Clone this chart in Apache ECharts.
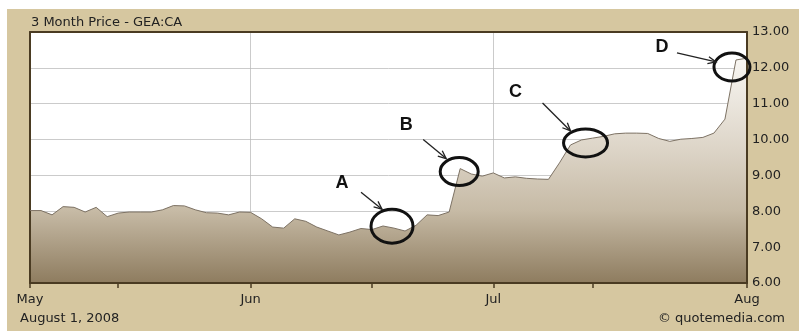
<!DOCTYPE html>
<html>
<head>
<meta charset="utf-8">
<script src="https://cdn.jsdelivr.net/npm/echarts@6/dist/echarts.min.js"></script>
<style>
  html, body { margin: 0; padding: 0; background: #fff; }
  #frame { position: absolute; left: 7px; top: 9px; width: 792px; height: 322px; background: #d6c7a0; }
  #chart { position: absolute; left: 0; top: 0; width: 799px; height: 331px; }
</style>
</head>
<body>
<div id="frame"></div>
<div id="chart"></div>
<script>
// daily closes, GEA:CA, May 1 - Aug 1 2008
const prices = [
    8.02, 8.02, 7.90, 8.13, 8.11, 7.98, 8.11, 7.85, 7.95, 7.98,
    7.98, 7.98, 8.04, 8.16, 8.15, 8.04, 7.96, 7.95, 7.90, 7.98,
    7.97, 7.79, 7.56, 7.53, 7.79, 7.72, 7.56, 7.45, 7.34, 7.42,
    7.52, 7.49, 7.59, 7.53, 7.45, 7.61, 7.90, 7.88, 7.98, 9.19,
    9.04, 8.98, 9.07, 8.93, 8.96, 8.92, 8.90, 8.89, 9.35, 9.85,
    9.99, 10.04, 10.09, 10.16, 10.18, 10.18, 10.17, 10.03, 9.95, 10.01,
    10.03, 10.06, 10.18, 10.57, 12.22, 12.27
];
const days = prices.map((p, i) => String(i));

// month labels and where they sit on the day axis
const monthIdx = [0, 20, 42, 65];
const monthNames = ['May', 'Jun', 'Jul', 'Aug'];
const midIdx = [8, 31, 51];

// hand drawn notes
const noteLetters = ['A', 'B', 'C', 'D'];
const noteIndex = [33, 39, 50, 64];

// note layout, pixel offsets from the data point
const noteLayout = [
    { ring: [-2, -2, 21, 17], letter: [-52, -45], arrow: [-33, -36, -12, -19] },
    { ring: [-1, 3, 19, 14], letter: [-54, -44], arrow: [-37, -29, -14, -10] },
    { ring: [4, 3, 22, 14], letter: [-66, -48], arrow: [-39, -37, -11, -9] },
    { ring: [-4, 7, 18, 14], letter: [-74, -13], arrow: [-59, -7, -20, 2] }
];

const font = 'DejaVu Sans';
const dark = '#4a3b22';

var chart = echarts.init(document.getElementById('chart'));

var option = {
    backgroundColor: 'transparent',
    animation: false,
    grid: { left: 30, top: 32, right: 52, bottom: 48, show: true, backgroundColor: '#ffffff', borderWidth: 0 },
    xAxis: [
        {
            type: 'category',
            data: days,
            boundaryGap: false,
            z: 3,
            axisLine: { lineStyle: { color: dark, width: 2 } },
            axisTick: {
                show: true,
                length: 5,
                lineStyle: { color: dark, width: 1.5 },
                interval: (i) => monthIdx.includes(i) || midIdx.includes(i)
            },
            axisLabel: {
                interval: (i) => monthIdx.includes(i),
                formatter: (v) => monthNames[monthIdx.indexOf(+v)] || '',
                color: '#222',
                fontFamily: font,
                fontSize: 13,
                margin: 10
            },
            splitLine: {
                show: true,
                interval: (i) => i === monthIdx[1] || i === monthIdx[2],
                lineStyle: { color: 'rgba(185,185,185,0.75)', width: 1 }
            }
        },
        {
            type: 'category',
            data: days,
            boundaryGap: false,
            position: 'top',
            z: 3,
            axisLine: { lineStyle: { color: dark, width: 2 } },
            axisTick: { show: false },
            axisLabel: { show: false },
            splitLine: { show: false }
        }
    ],
    yAxis: [
        {
            type: 'value',
            position: 'right',
            min: 6,
            max: 13,
            interval: 1,
            z: 3,
            axisLine: { show: true, lineStyle: { color: dark, width: 2 } },
            axisTick: { show: false },
            axisLabel: {
                formatter: (v) => v.toFixed(2),
                color: '#222',
                fontFamily: font,
                fontSize: 13,
                margin: 5
            },
            splitLine: { show: true, lineStyle: { color: 'rgba(185,185,185,0.75)', width: 1 } }
        },
        {
            type: 'value',
            position: 'left',
            min: 6,
            max: 13,
            z: 3,
            axisLine: { show: true, lineStyle: { color: dark, width: 2 } },
            axisTick: { show: false },
            axisLabel: { show: false },
            splitLine: { show: false }
        }
    ],
    series: [
        {
            type: 'line',
            data: prices,
            symbol: 'none',
            lineStyle: { color: '#7d7264', width: 1 },
            areaStyle: {
                opacity: 1,
                color: new echarts.graphic.LinearGradient(0, 0, 0, 1, [
                    { offset: 0, color: '#f8f6f2' },
                    { offset: 0.4, color: '#ddd5c8' },
                    { offset: 0.68, color: '#c6baa5' },
                    { offset: 1, color: '#8e7c5f' }
                ])
            }
        }
    ],
    graphic: [
        { type: 'text', left: 31, top: 16, style: { text: '3 Month Price - GEA:CA', font: '13px "DejaVu Sans"', fill: '#222' } },
        { type: 'text', left: 20, top: 312, style: { text: 'August 1, 2008', font: '13px "DejaVu Sans"', fill: '#222' } },
        { type: 'text', right: 14, top: 312, style: { text: '\u00a9 quotemedia.com', font: '13px "DejaVu Sans"', fill: '#222' } }
    ]
};

chart.setOption(option);

function arrowEls(x1, y1, x2, y2) {
    var a = Math.atan2(y2 - y1, x2 - x1), h = 8, w = 3.5;
    var c = Math.cos(a), s = Math.sin(a);
    return [
        { type: 'line', z: 50, shape: { x1: x1, y1: y1, x2: x2, y2: y2 }, style: { stroke: '#222', lineWidth: 1.3 } },
        { type: 'polyline', z: 50, shape: { points: [
            [x2 - h * c + w * s, y2 - h * s - w * c], [x2, y2], [x2 - h * c - w * s, y2 - h * s + w * c]
        ] }, style: { stroke: '#222', lineWidth: 1.3, fill: null } }
    ];
}

var notes = [];
noteLetters.forEach(function (ch, k) {
    var p = chart.convertToPixel({ xAxisIndex: 0, yAxisIndex: 0 }, [noteIndex[k], prices[noteIndex[k]]]);
    var L = noteLayout[k];
    notes.push({
        type: 'ellipse', z: 50,
        shape: { cx: p[0] + L.ring[0], cy: p[1] + L.ring[1], rx: L.ring[2], ry: L.ring[3] },
        style: { fill: null, stroke: '#111', lineWidth: 3 }
    });
    notes.push({
        type: 'text', z: 50,
        x: p[0] + L.letter[0], y: p[1] + L.letter[1],
        style: { text: ch, font: 'bold 18px "Liberation Sans"', fill: '#111', align: 'center', verticalAlign: 'middle' }
    });
    notes = notes.concat(arrowEls(p[0] + L.arrow[0], p[1] + L.arrow[1], p[0] + L.arrow[2], p[1] + L.arrow[3]));
});

chart.setOption({ graphic: option.graphic.concat(notes) });
</script>
</body>
</html>
